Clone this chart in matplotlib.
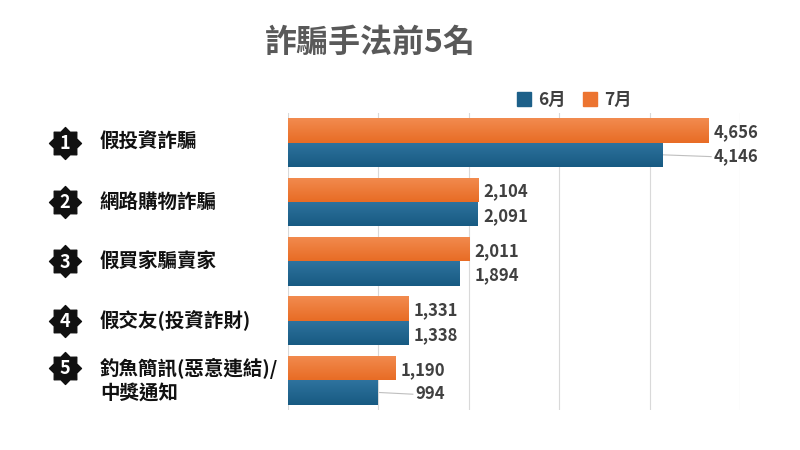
import matplotlib.pyplot as plt
import numpy as np
from matplotlib.transforms import blended_transform_factory
from matplotlib.path import Path
from matplotlib.patches import Patch
from matplotlib.colors import LinearSegmentedColormap

plt.rcParams['font.family'] = ['Noto Sans CJK TC', 'DejaVu Sans']

categories = ['假投資詐騙', '網路購物詐騙', '假買家騙賣家', '假交友(投資詐財)',
              '釣魚簡訊(惡意連結)/\n中獎通知']
ranks = ['1', '2', '3', '4', '5']
june = [4146, 2091, 1894, 1338, 994]
july = [4656, 2104, 2011, 1331, 1190]
series_names = ['6月', '7月']
title = '詐騙手法前5名'

BLUE = '#1d6089'
ORANGE = '#ec7430'
blue_cmap = LinearSegmentedColormap.from_list('b', ['#2f739e', '#175a82'])
orange_cmap = LinearSegmentedColormap.from_list('o', ['#f28b4f', '#e86c25'])

fig = plt.figure(figsize=(8, 4.5), dpi=100)
ax = fig.add_axes([0.36, 0.089, 0.565, 0.66])

y = np.arange(len(categories))
h = 0.41
bars_o = ax.barh(y - h / 2, july, height=h, color=ORANGE, zorder=2)
bars_b = ax.barh(y + h / 2, june, height=h, color=BLUE, zorder=2)

# vertical gradient on each bar
grad = np.linspace(0, 1, 64).reshape(-1, 1)
for bars, cmap in ((bars_o, orange_cmap), (bars_b, blue_cmap)):
    for bar in bars:
        x0, y0, w, hh = bar.get_x(), bar.get_y(), bar.get_width(), bar.get_height()
        im = ax.imshow(grad, extent=[x0, x0 + w, y0 + hh, y0], aspect='auto',
                       cmap=cmap, zorder=3, interpolation='bilinear')
        im.set_clip_path(bar)

ax.set_xlim(0, 5000)
ax.set_ylim(len(categories) - 0.5, -0.5)
ax.set_xticks(np.arange(0, 5001, 1000))
ax.grid(axis='x', color='#d9d9d9', lw=0.8, zorder=0)
ax.tick_params(left=False, bottom=False, labelleft=False, labelbottom=False)
for s in ax.spines.values():
    s.set_visible(False)

# value labels
lab_kw = dict(fontsize=12, fontweight='bold', color='#404040', va='center', zorder=4)
pad = 55
pairs = []
for i in range(len(categories)):
    lx = max(july[i], june[i]) + pad
    t_o = ax.text(lx, y[i] - h / 2 + 0.03, f'{july[i]:,}', ha='left', **lab_kw)
    t_b = ax.text(lx, y[i] + h / 2 + 0.03, f'{june[i]:,}', ha='left', **lab_kw)
    pairs.append((t_o, t_b))

fig.canvas.draw()
r = fig.canvas.get_renderer()
inv = ax.transData.inverted()
for i, (t_o, t_b) in enumerate(pairs):
    eo = t_o.get_window_extent(r)
    eb = t_b.get_window_extent(r)
    if eb.width < eo.width - 2:
        right = inv.transform((eo.x1, 0))[0]
        t_b.set_ha('right')
        t_b.set_x(right)
        left = inv.transform((eo.x1 - eb.width, 0))[0]
    else:
        left = t_b.get_position()[0]
    if left - june[i] > 300:
        ax.plot([june[i], left - 30], [y[i] + h / 2, y[i] + h / 2 + 0.03],
                color='#bfbfbf', lw=0.8, zorder=1)

# category labels with star badges
tr = blended_transform_factory(fig.transFigure, ax.transData)
ang = np.pi / 2 + np.arange(16) * np.pi / 8
rad = np.where(np.arange(16) % 2 == 0, 1.0, 0.76)
verts = np.column_stack([rad * np.cos(ang), rad * np.sin(ang)])
star = Path(np.vstack([verts, verts[:1]]), closed=True)
for i, cat in enumerate(categories):
    ax.text(0.125, y[i], cat, transform=tr, ha='left', va='center', fontsize=14,
            fontweight='bold', color='#111111', linespacing=1.3, clip_on=False)
    by = y[i] - 0.2 if '\n' in cat else y[i]
    ax.plot([0.081], [by], marker=star, markersize=23, color='#111111',
            transform=tr, clip_on=False)
    ax.text(0.081, by + 0.01, ranks[i], transform=tr, ha='center', va='center',
            fontsize=13, color='white', fontweight='bold', clip_on=False)

fig.text(0.4625, 0.905, title, ha='center', va='center', fontsize=23,
         fontweight='bold', color='#595959')

handles = [Patch(color=BLUE), Patch(color=ORANGE)]
fig.legend(handles, series_names, loc='center', bbox_to_anchor=(0.718, 0.778),
           ncol=2, frameon=False, handlelength=0.8, handleheight=0.8,
           handletextpad=0.4, columnspacing=1.0,
           prop={'size': 12.5, 'weight': 'bold'}, labelcolor='#404040')

fig.savefig('out.png', dpi=100)
